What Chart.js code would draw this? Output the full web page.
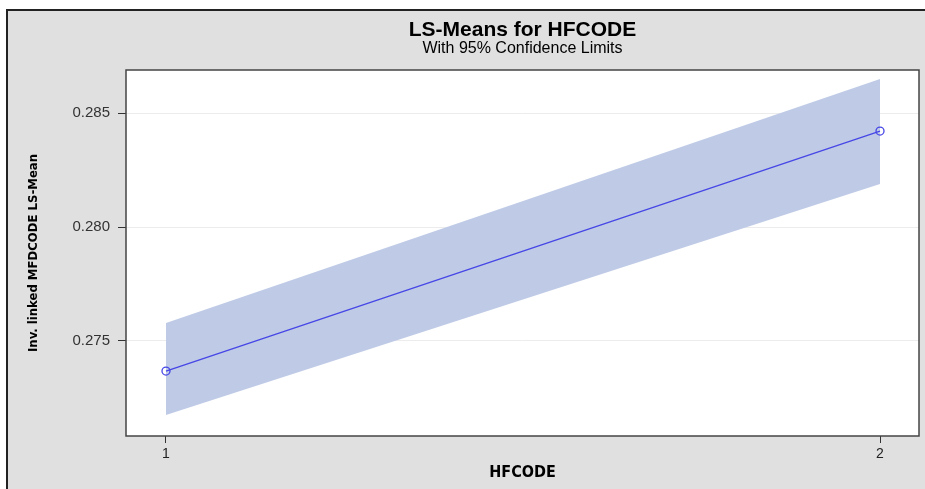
<!DOCTYPE html>
<html>
<head>
<meta charset="utf-8">
<script src="https://cdn.jsdelivr.net/npm/chart.js@4"></script>
<style>
  body { margin: 0; background: #fff; }
  #frame {
    position: absolute; left: 6px; top: 9px; width: 919px; height: 480px;
    background: #e0e0e0; border-left: 2px solid #222; border-top: 2px solid #222;
  }
  #wrap { position: absolute; left: 0; top: 0; width: 925px; height: 489px; }
</style>
</head>
<body>
<div id="frame"></div>
<div id="wrap"><canvas id="lsChart"></canvas></div>
<script>
const hfcode = [1, 2];
const lsMean = [0.27368, 0.28421];
const upperCL = [0.27579, 0.28649];
const lowerCL = [0.27175, 0.28189];
const xTicks = [1, 2];
const yTicks = [0.275, 0.280, 0.285];

const pts = (arr) => hfcode.map((x, i) => ({ x: x, y: arr[i] }));

// white plot area + box around it
const plotBox = {
  id: 'plotBox',
  beforeDraw(chart) {
    const a = chart.chartArea, ctx = chart.ctx;
    ctx.save();
    ctx.fillStyle = '#fff';
    ctx.fillRect(a.left, a.top, a.right - a.left, a.bottom - a.top);
    ctx.restore();
  },
  afterDraw(chart) {
    const a = chart.chartArea, ctx = chart.ctx;
    ctx.save();
    ctx.strokeStyle = '#444';
    ctx.lineWidth = 1.5;
    ctx.strokeRect(a.left, a.top, a.right - a.left, a.bottom - a.top);
    ctx.restore();
  }
};

let ctx = document.getElementById('lsChart');
new Chart(ctx, {
  type: 'line',
  data: {
    datasets: [{
      data: pts(lsMean),
      borderColor: '#4646e6',
      borderWidth: 1.3,
      pointRadius: 4,
      pointBorderWidth: 1.3,
      pointBackgroundColor: 'rgba(0,0,0,0)',
      pointBorderColor: '#4646e6',
      fill: false,
    }, {
      data: pts(upperCL),
      borderWidth: 0,
      pointRadius: 0,
      backgroundColor: 'rgb(191,203,230)',
      fill: '+1',
    }, {
      data: pts(lowerCL),
      borderWidth: 0,
      pointRadius: 0,
      fill: false,
    }],
  },
  options: {
    responsive: true,
    maintainAspectRatio: false,
    animation: false,
    layout: { padding: { left: 0, right: 6, top: 0, bottom: 0 } },
    plugins: {
      legend: { display: false },
      tooltip: { enabled: false },
      title: {
        display: true,
        text: 'LS-Means for HFCODE',
        fullSize: false,
        color: '#000',
        font: { family: '"Liberation Sans", Arial', size: 21, weight: 'bold', lineHeight: 1.0 },
        padding: { top: 20, bottom: 0 },
      },
      subtitle: {
        display: true,
        text: 'With 95% Confidence Limits',
        fullSize: false,
        color: '#000',
        font: { family: '"Liberation Sans", Arial', size: 16, lineHeight: 1.0 },
        padding: { top: 0, bottom: 13 },
      },
    },
    scales: {
      x: {
        type: 'linear',
        min: 0.944,
        max: 2.0546,
        afterBuildTicks: (scale) => { scale.ticks = xTicks.map(v => ({ value: v })); },
        afterFit: (scale) => { scale.height = 53; },
        border: { display: false },
        grid: { drawOnChartArea: false, tickColor: '#333', tickLength: 7 },
        ticks: {
          color: '#222', padding: 3,
          font: { family: '"Liberation Sans", Arial', size: 14 },
          callback: (v) => String(v),
        },
        title: {
          display: true,
          text: 'HFCODE',
          color: '#000',
          font: { family: '"Liberation Sans Narrow", "DejaVu Sans Condensed", Arial', size: 16, weight: 'bold' },
          padding: { top: 0, bottom: 7 },
        },
      },
      y: {
        type: 'linear',
        min: 0.27083,
        max: 0.28689,
        afterBuildTicks: (scale) => { scale.ticks = yTicks.map(v => ({ value: v })); },
        afterFit: (scale) => { scale.width = 126; },
        border: { display: false },
        grid: { color: '#ececec', tickColor: '#333', tickLength: 8 },
        ticks: {
          color: '#333', padding: 8,
          font: { family: '"Liberation Sans", Arial', size: 15 },
          callback: (v) => v.toFixed(3),
        },
        title: {
          display: true,
          text: 'Inv. linked MFDCODE LS-Mean',
          color: '#000',
          font: { family: '"Liberation Sans Narrow", "DejaVu Sans Condensed", Arial', size: 13, weight: 'bold' },
          padding: { top: 26, bottom: 0 },
        },
      },
    },
  },
  plugins: [plotBox],
});
</script>
</body>
</html>
